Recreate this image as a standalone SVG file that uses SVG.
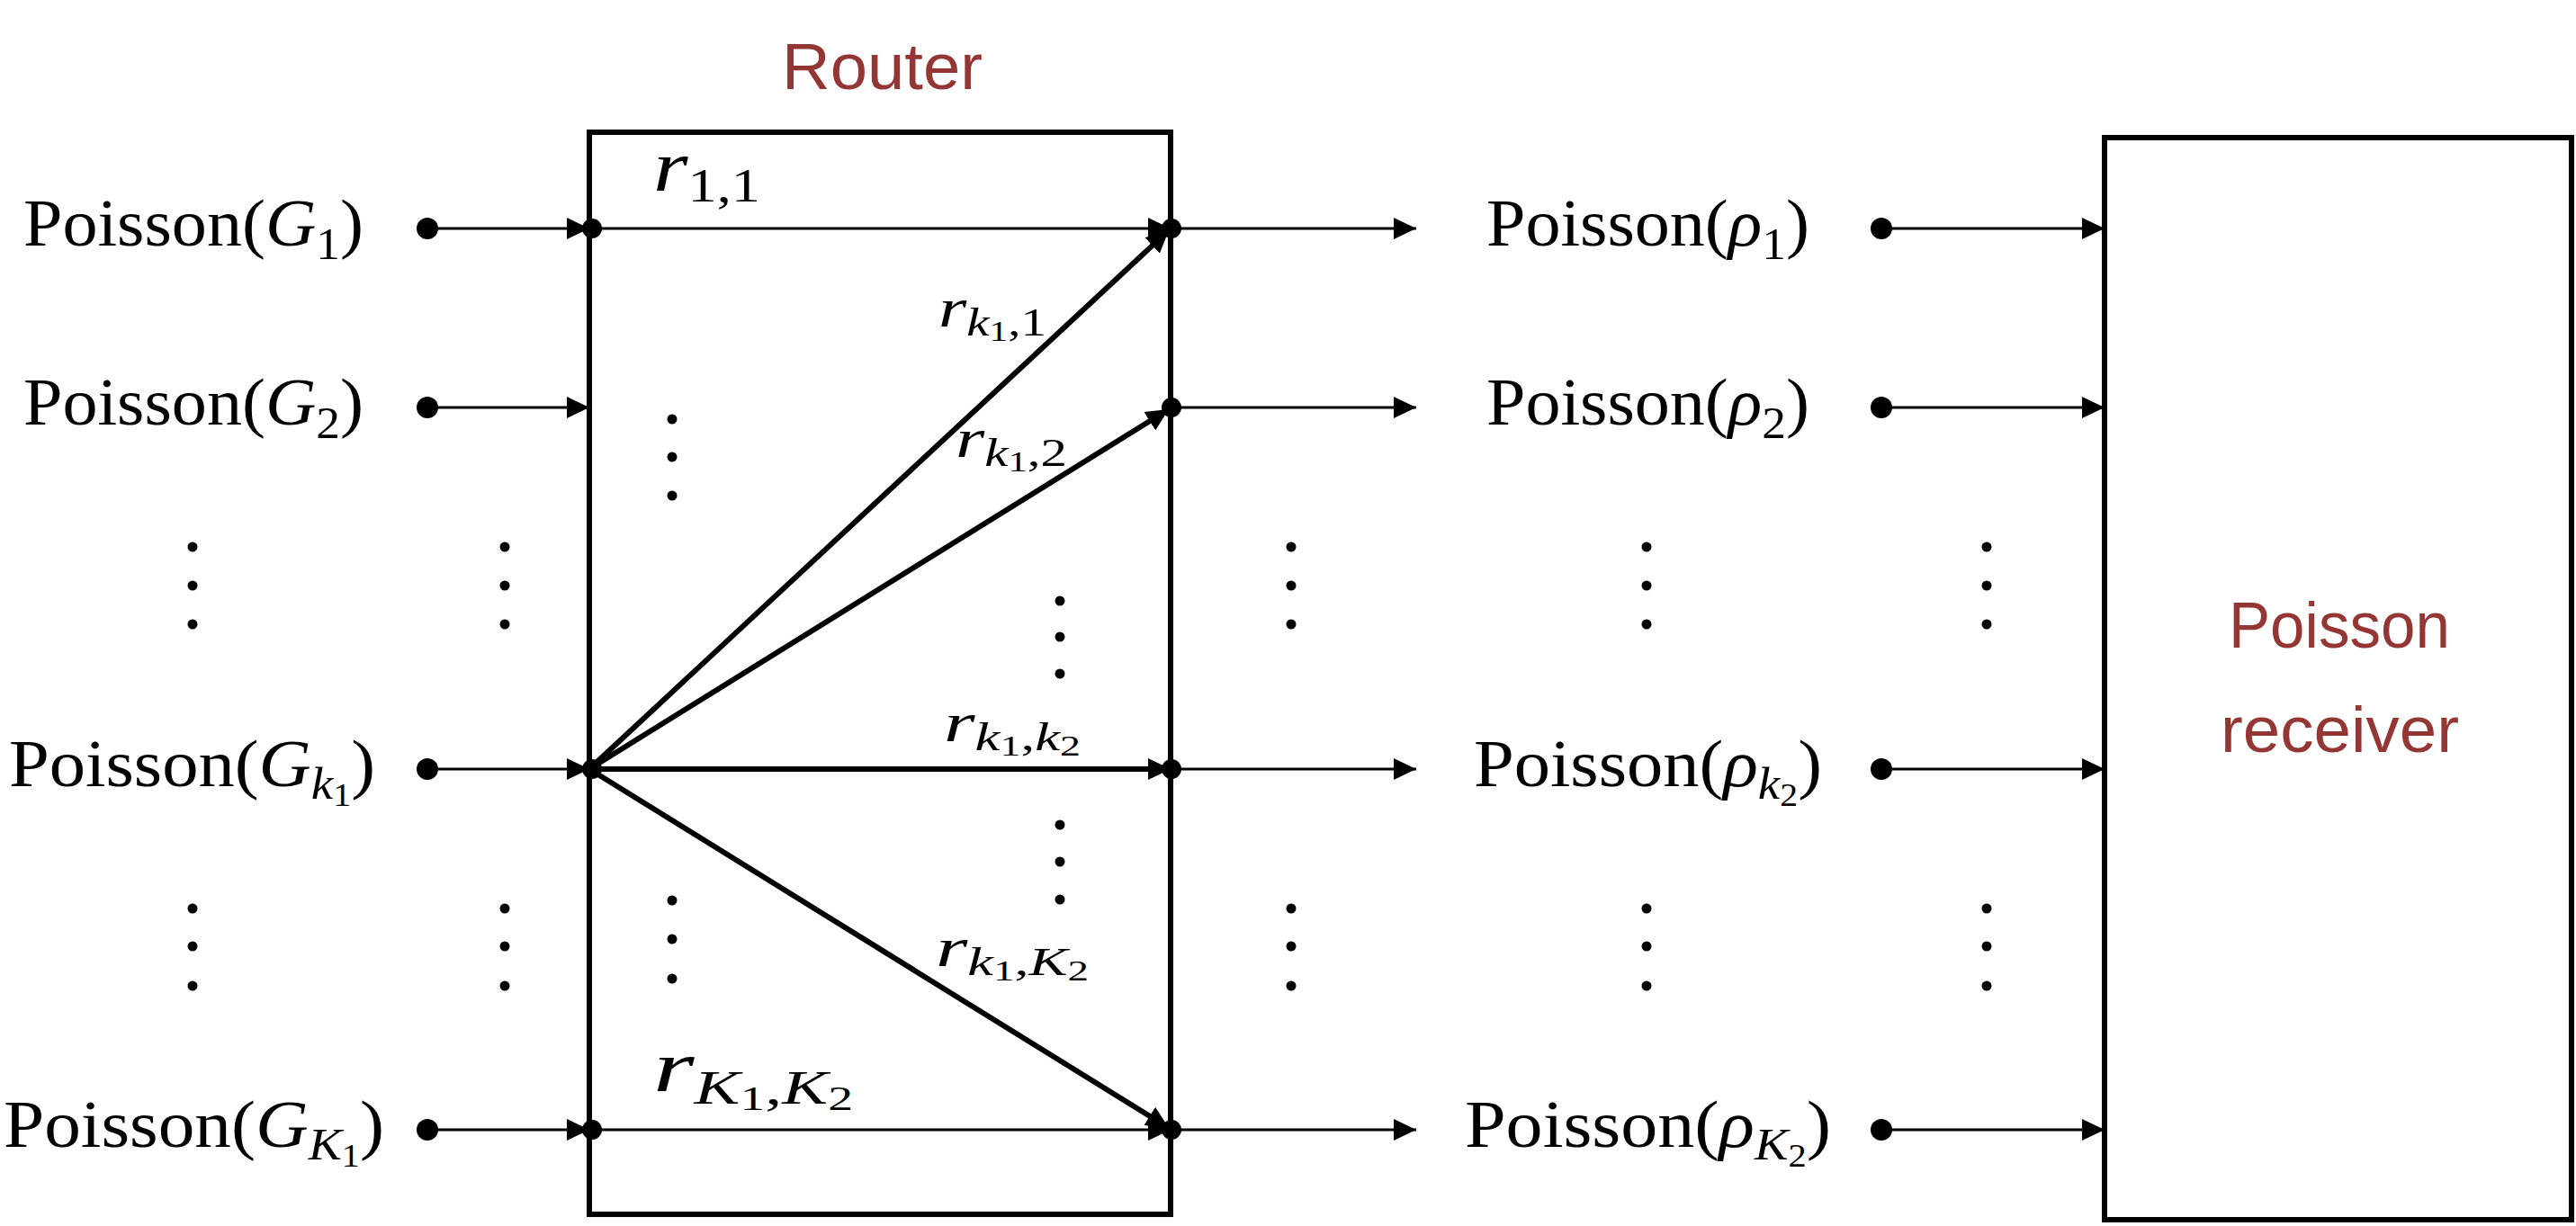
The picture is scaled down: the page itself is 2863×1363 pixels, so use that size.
<svg xmlns="http://www.w3.org/2000/svg" width="2863" height="1363" viewBox="0 0 2863 1363">
<style>
.lbl{font-family:"Liberation Serif","Times New Roman",serif;font-size:73px;fill:#000}
.it{font-style:italic}
.sub{font-size:50px}
.ssub{font-size:36px}
.rl{font-family:"Liberation Serif","Times New Roman",serif;fill:#000}
.red{font-family:"Liberation Sans",Arial,sans-serif;font-size:73px;fill:#943634}
.box{fill:none;stroke:#000;stroke-width:6}
.thin{stroke:#000;stroke-width:3;fill:none}
.thick{stroke:#000;stroke-width:6;fill:none}
.dot{fill:#000}
</style>
<defs>
<marker id="ah" markerUnits="userSpaceOnUse" markerWidth="26" markerHeight="26" viewBox="0 0 26 26" refX="25" refY="13" orient="auto">
<path d="M0,1 L25,13 L0,25 Z" fill="#000"/>
</marker>
</defs>

<!-- Router -->
<g id="router">
<rect class="box" x="655" y="147" width="646" height="1203"/>
<text class="red" x="869" y="99" textLength="223" lengthAdjust="spacingAndGlyphs">Router</text>
</g>

<!-- Receiver -->
<g id="receiver">
<rect class="box" x="2339" y="153" width="519" height="1203" stroke-width="5"/>
<text class="red" x="2477" y="720" textLength="246" lengthAdjust="spacingAndGlyphs">Poisson</text>
<text class="red" x="2468" y="836" textLength="265" lengthAdjust="spacingAndGlyphs">receiver</text>
</g>

<!-- Source labels -->
<g id="src-1"><text class="lbl" x="26" y="273" textLength="378" lengthAdjust="spacingAndGlyphs">Poisson(<tspan class="it">G</tspan><tspan class="sub" dy="15">1</tspan><tspan dy="-15">)</tspan></text></g>
<g id="src-2"><text class="lbl" x="26" y="472" textLength="378" lengthAdjust="spacingAndGlyphs">Poisson(<tspan class="it">G</tspan><tspan class="sub" dy="15">2</tspan><tspan dy="-15">)</tspan></text></g>
<g id="src-k1"><text class="lbl" x="10" y="874" textLength="407" lengthAdjust="spacingAndGlyphs">Poisson(<tspan class="it">G</tspan><tspan class="sub it" dy="14">k</tspan><tspan class="ssub" dy="8">1</tspan><tspan dy="-22">)</tspan></text></g>
<g id="src-K1"><text class="lbl" x="4" y="1275" textLength="423" lengthAdjust="spacingAndGlyphs">Poisson(<tspan class="it">G</tspan><tspan class="sub it" dy="14">K</tspan><tspan class="ssub" dy="8">1</tspan><tspan dy="-22">)</tspan></text></g>

<!-- Output labels -->
<g id="out-1"><text class="lbl" x="1652" y="273" textLength="359" lengthAdjust="spacingAndGlyphs">Poisson(<tspan class="it">ρ</tspan><tspan class="sub" dy="15">1</tspan><tspan dy="-15">)</tspan></text></g>
<g id="out-2"><text class="lbl" x="1652" y="472" textLength="359" lengthAdjust="spacingAndGlyphs">Poisson(<tspan class="it">ρ</tspan><tspan class="sub" dy="15">2</tspan><tspan dy="-15">)</tspan></text></g>
<g id="out-k2"><text class="lbl" x="1638" y="874" textLength="387" lengthAdjust="spacingAndGlyphs">Poisson(<tspan class="it">ρ</tspan><tspan class="sub it" dy="14">k</tspan><tspan class="ssub" dy="8">2</tspan><tspan dy="-22">)</tspan></text></g>
<g id="out-K2"><text class="lbl" x="1628" y="1275" textLength="407" lengthAdjust="spacingAndGlyphs">Poisson(<tspan class="it">ρ</tspan><tspan class="sub it" dy="14">K</tspan><tspan class="ssub" dy="8">2</tspan><tspan dy="-22">)</tspan></text></g>

<!-- Connectors -->
<g id="connectors">
<!-- inputs -->
<line class="thin" x1="475" y1="254" x2="655" y2="254" marker-end="url(#ah)"/>
<line class="thin" x1="475" y1="453" x2="655" y2="453" marker-end="url(#ah)"/>
<line class="thin" x1="475" y1="855" x2="655" y2="855" marker-end="url(#ah)"/>
<line class="thin" x1="475" y1="1256" x2="655" y2="1256" marker-end="url(#ah)"/>
<!-- router internal -->
<line class="thin" x1="655" y1="254" x2="1301" y2="254" marker-end="url(#ah)"/>
<line class="thin" x1="655" y1="1256" x2="1301" y2="1256" marker-end="url(#ah)"/>
<line class="thick" x1="655" y1="855" x2="1301" y2="855" stroke-width="7" marker-end="url(#ah)"/>
<line class="thick" x1="655" y1="855" x2="1299" y2="256" marker-end="url(#ah)"/>
<line class="thick" x1="655" y1="855" x2="1299" y2="455" marker-end="url(#ah)"/>
<line class="thick" x1="655" y1="855" x2="1299" y2="1254" marker-end="url(#ah)"/>
<!-- router outputs -->
<line class="thin" x1="1301" y1="254" x2="1574" y2="254" marker-end="url(#ah)"/>
<line class="thin" x1="1301" y1="453" x2="1574" y2="453" marker-end="url(#ah)"/>
<line class="thin" x1="1301" y1="855" x2="1574" y2="855" marker-end="url(#ah)"/>
<line class="thin" x1="1301" y1="1256" x2="1574" y2="1256" marker-end="url(#ah)"/>
<!-- to receiver -->
<line class="thin" x1="2091" y1="254" x2="2339" y2="254" marker-end="url(#ah)"/>
<line class="thin" x1="2091" y1="453" x2="2339" y2="453" marker-end="url(#ah)"/>
<line class="thin" x1="2091" y1="855" x2="2339" y2="855" marker-end="url(#ah)"/>
<line class="thin" x1="2091" y1="1256" x2="2339" y2="1256" marker-end="url(#ah)"/>
<!-- endpoint dots -->
<circle class="dot" cx="475" cy="254" r="12"/>
<circle class="dot" cx="475" cy="453" r="12"/>
<circle class="dot" cx="475" cy="855" r="12"/>
<circle class="dot" cx="475" cy="1256" r="12"/>
<circle class="dot" cx="658" cy="254" r="11"/>
<circle class="dot" cx="658" cy="855" r="11"/>
<circle class="dot" cx="658" cy="1256" r="11"/>
<circle class="dot" cx="1302" cy="254" r="11"/>
<circle class="dot" cx="1302" cy="453" r="11"/>
<circle class="dot" cx="1302" cy="855" r="11"/>
<circle class="dot" cx="1302" cy="1256" r="11"/>
<circle class="dot" cx="2091" cy="254" r="12"/>
<circle class="dot" cx="2091" cy="453" r="12"/>
<circle class="dot" cx="2091" cy="855" r="12"/>
<circle class="dot" cx="2091" cy="1256" r="12"/>
</g>

<!-- Edge labels -->
<g id="edge-labels">
<text class="rl" x="726" y="212" font-size="80" textLength="119" lengthAdjust="spacingAndGlyphs"><tspan class="it">r</tspan><tspan font-size="52" dy="12">1,1</tspan></text>
<text class="rl" x="1043" y="363" font-size="62" textLength="120" lengthAdjust="spacingAndGlyphs"><tspan class="it">r</tspan><tspan class="it" font-size="44" dy="10">k</tspan><tspan font-size="32" dy="6">1</tspan><tspan font-size="44" dy="-6">,1</tspan></text>
<text class="rl" x="1062" y="508" font-size="62" textLength="124" lengthAdjust="spacingAndGlyphs"><tspan class="it">r</tspan><tspan class="it" font-size="44" dy="10">k</tspan><tspan font-size="32" dy="6">1</tspan><tspan font-size="44" dy="-6">,2</tspan></text>
<text class="rl" x="1049" y="824" font-size="62" textLength="152" lengthAdjust="spacingAndGlyphs"><tspan class="it">r</tspan><tspan class="it" font-size="44" dy="10">k</tspan><tspan font-size="32" dy="6">1</tspan><tspan font-size="44" dy="-6">,</tspan><tspan class="it" font-size="44">k</tspan><tspan font-size="32" dy="6">2</tspan></text>
<text class="rl" x="1040" y="1074" font-size="62" textLength="170" lengthAdjust="spacingAndGlyphs"><tspan class="it">r</tspan><tspan class="it" font-size="44" dy="10">k</tspan><tspan font-size="32" dy="6">1</tspan><tspan font-size="44" dy="-6">,</tspan><tspan class="it" font-size="44">K</tspan><tspan font-size="32" dy="6">2</tspan></text>
<text class="rl" x="726" y="1213" font-size="80" textLength="222" lengthAdjust="spacingAndGlyphs"><tspan class="it">r</tspan><tspan class="it" font-size="52" dy="14">K</tspan><tspan font-size="38" dy="7">1</tspan><tspan font-size="52" dy="-7">,</tspan><tspan class="it" font-size="52">K</tspan><tspan font-size="38" dy="7">2</tspan></text>
</g>

<!-- Ellipsis dots -->
<g id="ellipses" fill="#000">
<circle cx="214" cy="608" r="5.5"/><circle cx="214" cy="651" r="5.5"/><circle cx="214" cy="694" r="5.5"/>
<circle cx="214" cy="1010" r="5.5"/><circle cx="214" cy="1052" r="5.5"/><circle cx="214" cy="1096" r="5.5"/>
<circle cx="561" cy="608" r="5.5"/><circle cx="561" cy="651" r="5.5"/><circle cx="561" cy="694" r="5.5"/>
<circle cx="561" cy="1010" r="5.5"/><circle cx="561" cy="1052" r="5.5"/><circle cx="561" cy="1096" r="5.5"/>
<circle cx="747" cy="466" r="5.5"/><circle cx="747" cy="508" r="5.5"/><circle cx="747" cy="551" r="5.5"/>
<circle cx="747" cy="1001" r="5.5"/><circle cx="747" cy="1044" r="5.5"/><circle cx="747" cy="1088" r="5.5"/>
<circle cx="1178" cy="668" r="5.5"/><circle cx="1178" cy="708" r="5.5"/><circle cx="1178" cy="749" r="5.5"/>
<circle cx="1178" cy="917" r="5.5"/><circle cx="1178" cy="958" r="5.5"/><circle cx="1178" cy="1000" r="5.5"/>
<circle cx="1435" cy="608" r="5.5"/><circle cx="1435" cy="651" r="5.5"/><circle cx="1435" cy="694" r="5.5"/>
<circle cx="1435" cy="1010" r="5.5"/><circle cx="1435" cy="1052" r="5.5"/><circle cx="1435" cy="1096" r="5.5"/>
<circle cx="1830" cy="608" r="5.5"/><circle cx="1830" cy="651" r="5.5"/><circle cx="1830" cy="694" r="5.5"/>
<circle cx="1830" cy="1010" r="5.5"/><circle cx="1830" cy="1052" r="5.5"/><circle cx="1830" cy="1096" r="5.5"/>
<circle cx="2208" cy="608" r="5.5"/><circle cx="2208" cy="651" r="5.5"/><circle cx="2208" cy="694" r="5.5"/>
<circle cx="2208" cy="1010" r="5.5"/><circle cx="2208" cy="1052" r="5.5"/><circle cx="2208" cy="1096" r="5.5"/>
</g>
</svg>
